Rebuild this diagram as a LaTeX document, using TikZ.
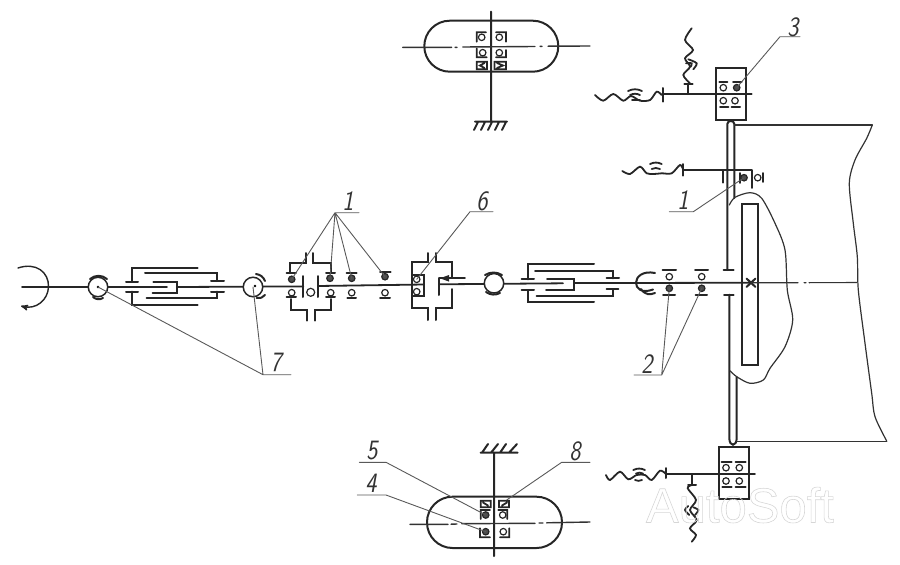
\documentclass[tikz,border=0pt]{standalone}
\usepackage{fontspec}
\usepackage{tikz}
\usetikzlibrary{arrows}
\newfontfamily\markfont{Liberation Sans}

\begin{document}
\begin{tikzpicture}[x=1pt,y=-1pt,>=stealth',line cap=round,
	shaft/.style={line width=1.8pt,black!85},
	rim/.style={line width=2pt,black!85},
	hull/.style={line width=1.2pt,black!80},
	thin axis/.style={line width=1.1pt,black!80},
	ring/.style={circle,draw=black!85,line width=1.2pt,inner sep=0pt,minimum size=6.5pt},
	darkring/.style={ring,fill=black!70},
	joint/.style={circle,draw=black!85,fill=white,line width=1.5pt,inner sep=0pt,minimum size=19.5pt},
	leader/.style={line width=.9pt,black!65},
	number/.style={inner sep=0pt,text=black!80,font=\fontsize{28}{28}\sffamily\slshape,xscale=.85}]
	\useasboundingbox (0,0) rectangle (900,565);

	% input shaft, rotation sign, joints
	\draw[shaft] (22,287) -- (167,287) (176.7,287) -- (303.3,286.4) (318.3,286) -- (424,284.5) (439.3,284.3) -- (563,283.3) (574,283) -- (635,283) -- (751,282.7);
	\draw[line width=1.4pt,->,black!85] (18,268) .. controls (36,262) and (49,272) .. (48.5,287) .. controls (48,300) and (36,310) .. (21,306);
	\node[joint] (J1) at (98,287) {};
	\node[joint] (J2) at (253,287) {};
	\node[joint] (J3) at (494,283.3) {};
	\fill[black] (98,287) circle (1.4pt) (255,286) circle (1.4pt);
	\draw[rim] (90,279) to[bend left=40] (107,279) (93,297) to[bend right=35] (103,298)
		(256,274) to[bend left=30] (265,281) (256.7,298) to[bend right=30] (265,295)
		(485,275) to[bend left=30] (502,275) (486,292) to[bend right=30] (500,293);
	\coordinate (J4) at (645,283);
	\draw[rim] (655,273) .. controls (630,268) and (630,298) .. (653,289.5) (641,289) .. controls (645,295) and (650,295) .. (655,293);

	% first telescopic coupling
	\draw[rim] (131.7,281.7) -- (131.7,268.3) -- (197.7,268.3) (126,281.7) -- (138,281.7) (126,291.7) -- (138,291.7)
		(131.7,291.7) -- (131.7,305.3) -- (197.7,305.3)
		(145,273.3) -- (216.7,273.3) -- (216.7,281) (211,281) -- (224,281) (211,291.7) -- (224,291.7)
		(146.7,298.3) -- (216.7,298.3) -- (216.7,291.7)
		(153.3,281.7) -- (176.7,281.7) -- (176.7,293.3) -- (152.7,293.3);

	% gear pair with bearings
	\node[darkring] (Ba) at (291.7,279.3) {};
	\node[ring]     (Bb) at (291.7,292.7) {};
	\node[darkring] (Bc) at (330,278.3) {};
	\node[ring]     (Bd) at (330.7,292.7) {};
	\node[darkring] (Be) at (351.7,278.3) {};
	\node[ring]     (Bf) at (351.7,292.7) {};
	\node[darkring] (Bg) at (385,276.7) {};
	\node[ring]     (Bh) at (385,292.7) {};
	\node[ring,minimum size=8pt] (Bi) at (310.7,292.3) {};
	\draw[rim] (306,253) -- (306,262.7) -- (290,262.7) -- (290,271.7) (286.7,272.7) -- (296,272.7)
		(313.3,253) -- (313.3,262.7) -- (330.7,262.7) -- (330.7,271.7) (326,272.7) -- (335,272.7)
		(286.7,297) -- (296,297) (290.7,299) -- (290.7,310) -- (306.7,310) -- (306.7,320.7)
		(326,297) -- (335,297) (330.7,299) -- (330.7,310) -- (315,310) -- (315,320.7)
		(303.3,276) -- (303.3,297) (318.3,276) -- (318.3,297)
		(346.7,272.7) -- (356.7,272.7) (347.3,298.3) -- (356,298.3)
		(380,271.7) -- (390.7,271.7) (380,298.3) -- (390,298.3);

	% clutch housing
	\node[ring] (Bj) at (416.7,279.3) {};
	\node[ring] (Bk) at (416.7,291.7) {};
	\draw[rim] (427.7,253) -- (427.7,261.7) -- (411.7,261.7) -- (411.7,308.3) -- (427.7,308.3) -- (427.7,320)
		(435.7,253) -- (435.7,261.7) -- (451.7,261.7) -- (451.7,277) (451.7,289) -- (451.7,308.3) -- (435.7,308.3) -- (435.7,320)
		(413.3,275) -- (424,275) -- (424,296) -- (413.3,296) (439.3,278) -- (439.3,295);
	\draw[shaft] (439.3,278.3) -- (465,278.3);
	\fill[black!85] (440,278.3) -- (449,275) -- (449,281.6) -- cycle;

	% second telescopic coupling
	\draw[rim] (527.7,279.3) -- (527.7,264.3) -- (594,264.3) (521.7,279.3) -- (534,279.3) (521.7,290) -- (534,290)
		(528.3,290) -- (528.3,301.7) -- (594,301.7)
		(535,271) -- (612.7,271) -- (612.7,278.3) (606.7,278.3) -- (619,278.3) (606.7,289.3) -- (618.3,289.3)
		(536.7,295.7) -- (612.7,295.7) -- (612.7,289.3)
		(547,279) -- (574,279) -- (574,290) -- (546,290);

	% output bearings
	\node[ring]     (Bl) at (669.3,276.7) {};
	\node[darkring] (Bm) at (669.3,288.3) {};
	\node[ring]     (Bn) at (701.7,276.7) {};
	\node[darkring] (Bo) at (701.7,288.3) {};
	\draw[rim] (662.7,270) -- (676,270) (663,295) -- (675,295) (695,270) -- (708,270) (695.5,295) -- (707,295)
		(723.7,270) -- (733.7,270) (724,294.7) -- (733.7,294.7);

	% wheel
	\draw[rim] (742.3,204.3) rectangle (758.3,365);
	\draw[rim] (746.5,278.5) -- (755.5,287) (755.5,278.5) -- (746.5,287);
	\draw[thin axis] (751,282.7) -- (798,282.7) (804,282.7) -- (806,282.7) (809,282.7) -- (857,282.5);
	\draw[rim] (727.3,270) -- (727.3,124) .. controls (727.3,120) and (734.3,120) .. (734.3,124) -- (734.3,198)
		(729.3,294.7) -- (729.3,438) .. controls (729.3,447) and (736.7,447) .. (736.7,438) -- (736.7,377);
	\draw[hull] (734.3,125) -- (872.3,125);
	\draw[hull] (736.7,441.7) -- (886.7,441.7);
	\draw[hull] plot[smooth] coordinates {(872.3,125) (866.7,138.3) (855,160) (849.3,183.3) (853.3,223.3) (857.3,256.7) (858.3,290) (865,343.3) (871.7,393.3) (875,416.7) (886.7,441)};
	\draw[hull] plot[smooth] coordinates {(729.3,205) (735,197.3) (750,192.7) (761.7,198.3) (775,223.3) (785,250) (787.3,290) (792.7,320) (785,346.7) (770,368.3) (763.3,380) (750,383.3) (736.7,376.7) (730,370.7)};

	% upper side box
	\node[ring]     (Ca) at (723.3,87.7) {};
	\node[darkring] (Cb) at (736.7,87.7) {};
	\node[ring]     (Cc) at (723.3,100.7) {};
	\node[ring]     (Cd) at (735,100.7) {};
	\draw[rim] (716,67.7) rectangle (746,120);
	\draw[shaft] (662.7,94) -- (751.7,94);
	\draw[rim] (662.7,88) -- (662.7,101.7) (688.3,94) -- (688.3,84) (684.3,84) -- (692.7,84)
		(719.3,81.7) -- (727.3,81.7) (733,81.7) -- (741.7,81.7) (720,106.7) -- (728.3,106.7) (731.7,106.7) -- (740,106.7);
	\draw[shaft] plot[smooth] coordinates {(595,95) (603.3,100.7) (613.3,94) (623.3,100.7) (631,96) (640,100.7) (650,100) (656.7,91.7) (661.7,95)};
	\draw[shaft] plot[smooth] coordinates {(690,83.3) (683.3,75) (690,66.7) (685,58.3) (693,50) (685,40) (691.7,28.3)};
	\draw[shaft] (628,91) to[bend left=25] (642,91) (630,95) to[bend left=25] (640,95) (632,100) -- (640,100);
	\draw[shaft] plot[smooth] coordinates {(688.3,59.3) (696.7,63.3) (693.3,69.3)};
	\draw[shaft] plot[smooth] coordinates {(686,63.3) (691.7,63.3) (690.7,66.7)};

	% steering arm with its bearing
	\node[darkring] (Da) at (744,177.7) {};
	\node[ring]     (Db) at (757.7,177.7) {};
	\draw[shaft] (683.3,170) -- (751.7,170) (683.3,164) -- (683.3,175.7) (722.7,170) -- (722.7,182.7) (751.7,170) -- (751.7,188)
		(740,173) -- (740,183) (763.3,173) -- (763.3,182);
	\draw[shaft] plot[smooth] coordinates {(622.3,171) (630,174) (640,166.7) (646.7,173.3) (654,174) (661.7,173.3) (671.7,173.3) (680,165) (683.3,170)};
	\draw[shaft] (650,164) to[bend left=25] (661.7,164) (651.7,169) to[bend left=25] (660,169);

	% lower side box
	\node[ring] (Ea) at (726,467.7) {};
	\node[ring] (Eb) at (739.3,467.7) {};
	\node[ring] (Ec) at (726,481) {};
	\node[ring] (Ed) at (739.3,481) {};
	\draw[rim] (719.3,446.7) rectangle (749.3,499.3);
	\draw[shaft] (666,474) -- (755,474);
	\draw[rim] (666,468) -- (666,478) (691.7,474) -- (691.7,485) (688,485) -- (696,485)
		(721.7,461.7) -- (731.7,461.7) (735.7,461.7) -- (745.7,461.7) (722.3,487.3) -- (731.7,487.3) (735.7,487.3) -- (745.7,487.3);
	\draw[shaft] plot[smooth] coordinates {(606,475) (610,480) (620,471.7) (628.3,479.3) (636.7,475) (645,475) (651.7,480) (660,470.7) (666,474)};
	\draw[shaft] plot[smooth] coordinates {(691.7,485) (687.7,488.3) (696,500) (690,510) (696.7,520) (690,528.3) (696,535) (691.7,541.7)};
	\draw[shaft] (633.3,470) to[bend left=25] (645,470) (636,473.5) to[bend left=25] (643,473.5) (635,480) to[bend right=25] (642,480);
	\draw[shaft] plot[smooth] coordinates {(688.3,506) (685,510) (689.3,515)};
	\draw[shaft] plot[smooth] coordinates {(693.3,507.3) (698.3,510) (695,515)};

	% top differential
	\draw[rim,rounded corners=25.5pt] (424.3,20.7) rectangle (558.3,71.7);
	\draw[rim] (491,11.7) -- (491,121.7) (475,121.7) -- (507,121.7)
		(478,122) -- (474,130) (485,122) -- (481,130) (492,122) -- (488,130) (499,122) -- (495,130) (506,122) -- (502,130);
	\draw[thin axis,line width=1.4pt] (402.7,47.3) -- (451.7,47.3) (455,47.3) -- (457,47.3) (462.7,47) -- (535,46.5) (540,46.3) -- (542,46.3) (548,46.2) -- (590,46);
	\node[ring] (Fa) at (481.7,37.3) {};
	\node[ring] (Fb) at (499.3,37.3) {};
	\node[ring] (Fc) at (482.7,52.7) {};
	\node[ring] (Fd) at (499.3,52.7) {};
	\draw[shaft] (476.7,41.7) -- (476.7,32.3) -- (486,32.3) (496,32.3) -- (506,32.3) -- (506,41.7)
		(476.7,48.5) -- (476.7,57.3) -- (486.7,57.3) (506,50) -- (506,57.3) -- (496,57.3)
		(476.7,61.7) rectangle (487,69.3) (494.5,61.7) rectangle (506,69.3)
		(484.5,63) -- (480,65.5) -- (484.5,68) (497,63) -- (503,65.5) -- (497,68);

	% bottom differential
	\draw[rim,rounded corners=25.5pt] (427,496.7) rectangle (562,548);
	\draw[rim] (494,452.7) -- (494,556) (480.7,452.7) -- (517.7,452.7)
		(482,452.7) -- (488,444) (491,452.7) -- (498,444) (500,452.7) -- (506,444) (509,452.7) -- (517,444);
	\draw[thin axis,line width=1.4pt] (410,524.3) -- (448,524.3) (451,524.2) -- (457,524) (461.7,523.7) -- (535,523.3) (539,523) -- (543,523) (546.7,522.8) -- (590,522);
	\node[darkring] (Ga) at (485.7,515) {};
	\node[ring]     (Gb) at (502.7,515) {};
	\node[darkring] (Gc) at (485.7,531.7) {};
	\node[ring]     (Gd) at (503.3,531.7) {};
	\draw[shaft] (480.7,519) -- (480.7,510) -- (490,510) (498.3,510) -- (507.3,510) -- (507.3,519)
		(480,528.3) -- (480,537.3) -- (490,537.3) (509.3,528.3) -- (509.3,537.3) -- (500,537.3)
		(480.7,500.7) rectangle (490.7,507.3) (499,500.7) rectangle (509,507.3)
		(483,502.5) -- (488,505.5) (502,505.5) -- (507,502.5);

	% numbers and leaders
	\node[number] (N1a) at (348,201) {1};
	\node[number] (N6)  at (482,201) {6};
	\node[number] (N7)  at (276,362) {7};
	\node[number] (N2)  at (647,364) {2};
	\node[number] (N3)  at (793,27) {3};
	\node[number] (N1b) at (683,200) {1};
	\node[number] (N5)  at (372,451) {5};
	\node[number] (N4)  at (371,483) {4};
	\node[number] (N8)  at (575,451) {8};
	\coordinate (T1a) at (335,212.7);
	\coordinate (T6)  at (470,211.7);
	\coordinate (T7)  at (263,374.7);
	\coordinate (T2)  at (661.7,375);
	\coordinate (T3)  at (780,36.7);
	\coordinate (T1b) at (693.3,211.7);
	\coordinate (T5)  at (386,462.3);
	\coordinate (T4)  at (386,495);
	\coordinate (T8)  at (561.7,462.3);
	\draw[leader] (Ba.center) -- (T1a) -- (359,212.7) (Bc.center) -- (T1a) (Be.center) -- (T1a) (Bg.center) -- (T1a);
	\draw[leader] (Bj.center) -- (T6) -- (493,211.7);
	\draw[leader] (J1.center) -- (T7) -- (291,374.7) (J2.center) -- (T7);
	\draw[leader] (Bm.center) -- (T2) -- (634,375) (Bo.center) -- (T2);
	\draw[leader] (Cb.center) -- (T3) -- (800,36.7);
	\draw[leader] (Da.center) -- (T1b) -- (669.3,211.7);
	\draw[leader] (Ga.center) -- (T5) -- (359.3,462.3);
	\draw[leader] (Gc.center) -- (T4) -- (357.3,495);
	\draw[leader] (506.7,500) -- (T8) -- (590,462.3);

	% watermark
	\node[inner sep=0pt,text=black!16] (mark) at (740,505) {\markfont\fontsize{49}{49}\selectfont\special{pdf:code 1 Tr .6 w}AutoSoft\special{pdf:code 0 Tr}};
\end{tikzpicture}
\end{document}
